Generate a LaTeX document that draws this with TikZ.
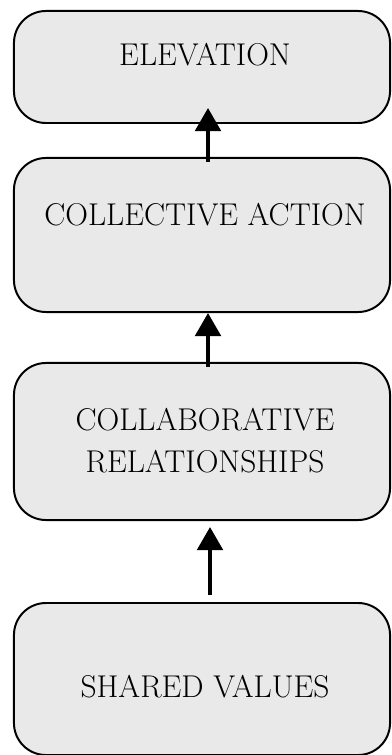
\documentclass[tikz,border=0pt]{standalone}
\usepackage{fontspec}
\usetikzlibrary{arrows.meta, positioning}
\definecolor{boxfill}{HTML}{E9E9E9}

\begin{document}
\begin{tikzpicture}[x=0.025cm, y=-0.025cm, >={Triangle[length=0.58cm,width=0.64cm]},
      stage/.style={draw, line width=1.4pt, fill=boxfill, rounded corners=0.8cm, minimum width=9.4cm},
      caption/.style={font=\fontsize{22.4}{30}\selectfont, align=center, inner sep=0pt},
      flow/.style={->, line width=2.8pt}]
      \useasboundingbox (0,0) rectangle (391,755);
      % boxes, top to bottom
      \node[stage, minimum height=2.8cm]   (elev) at (202,67) {};
      \node[stage, minimum height=3.85cm]  (act)  at (202,235) {};
      \node[stage, minimum height=3.925cm] (rel)  at (202,441.5) {};
      \node[stage, minimum height=3.8cm]   (val)  at (202,679) {};
      \node[caption] (elevText) at (205,55)  {ELEVATION};
      \node[caption] (actText)  at (205,215) {COLLECTIVE ACTION};
      \node[caption] (relText)  at (205,441) {COLLABORATIVE\\RELATIONSHIPS};
      \node[caption] (valText)  at (205,687) {SHARED VALUES};
      \path[flow]
      ([xshift=0.15cm,yshift=-0.125cm]act.north) edge ([xshift=0.15cm,yshift=0.4cm]elev.south)
      ([xshift=0.15cm,yshift=-0.125cm]rel.north) edge ([xshift=0.15cm]act.south)
      ([xshift=0.2cm,yshift=0.175cm]val.north)   edge ([xshift=0.2cm,yshift=-0.15cm]rel.south);
    \end{tikzpicture}
\end{document}
